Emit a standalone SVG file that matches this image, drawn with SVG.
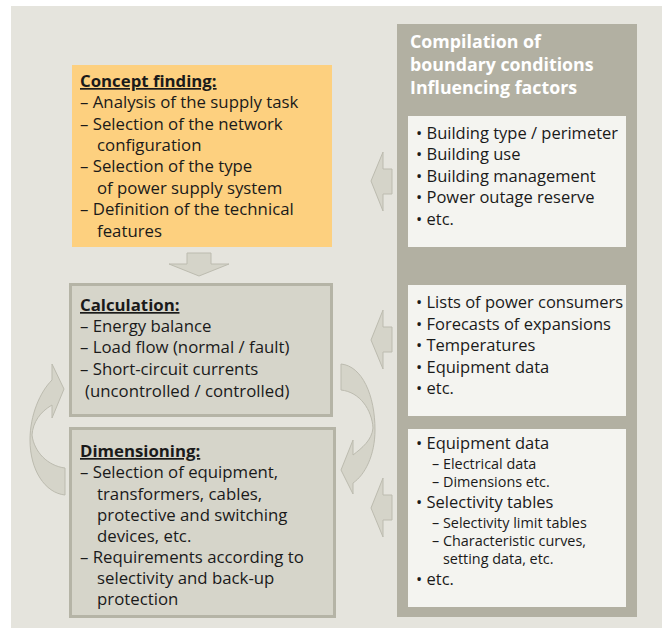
<svg xmlns="http://www.w3.org/2000/svg" width="662" height="629" viewBox="0 0 662 629">
<style>
text{font-family:"Open Sans","Noto Sans","DejaVu Sans",sans-serif;font-size:16.8px;fill:#1a1a1a}
.h{font-weight:bold;text-decoration:underline}
.w{fill:#ffffff;font-weight:bold;font-size:17.8px}
.r{font-size:16.5px}
.s{font-size:14.4px}
.arr{fill:#d5d4c9;stroke:#bcbbaf;stroke-width:1}
</style>
<rect x="0" y="0" width="662" height="629" fill="#ffffff"/>
<rect x="11" y="6" width="651" height="622" fill="#e5e4dd"/>
<g id="panel">
<rect x="397" y="24" width="240" height="593" fill="#b2b0a2"/>
<text class="w" x="410" y="48">Compilation of</text>
<text class="w" x="410" y="71">boundary conditions</text>
<text class="w" x="410" y="94">Influencing factors</text>
</g>
<g id="factors1">
<rect x="408" y="116" width="218" height="131" fill="#f4f4f0"/>
<text class="r" x="416" y="139">• Building type / perimeter</text>
<text class="r" x="416" y="160">• Building use</text>
<text class="r" x="416" y="182">• Building management</text>
<text class="r" x="416" y="203">• Power outage reserve</text>
<text class="r" x="416" y="225">• etc.</text>
</g>
<g id="factors2">
<rect x="408" y="285" width="218" height="131" fill="#f4f4f0"/>
<text class="r" x="416" y="308">• Lists of power consumers</text>
<text class="r" x="416" y="330">• Forecasts of expansions</text>
<text class="r" x="416" y="351">• Temperatures</text>
<text class="r" x="416" y="373">• Equipment data</text>
<text class="r" x="416" y="394">• etc.</text>
</g>
<g id="factors3">
<rect x="408" y="429" width="218" height="178" fill="#f4f4f0"/>
<text class="r" x="416" y="449">• Equipment data</text>
<text class="s" x="432" y="468.5">– Electrical data</text>
<text class="s" x="432" y="486.5">– Dimensions etc.</text>
<text class="r" x="416" y="508">• Selectivity tables</text>
<text class="s" x="432" y="528">– Selectivity limit tables</text>
<text class="s" x="432" y="546">– Characteristic curves,</text>
<text class="s" x="443" y="564">setting data, etc.</text>
<text class="r" x="416" y="585">• etc.</text>
</g>
<g id="concept">
<rect x="72" y="65" width="260" height="182" fill="#fdd07f"/>
<text class="h" x="80" y="87">Concept finding:</text>
<text x="80" y="108">– Analysis of the supply task</text>
<text x="80" y="130">– Selection of the network</text>
<text x="97" y="151">configuration</text>
<text x="80" y="172">– Selection of the type</text>
<text x="97" y="194">of power supply system</text>
<text x="80" y="215">– Definition of the technical</text>
<text x="97" y="237">features</text>
</g>
<g id="calculation">
<rect x="70.5" y="284.5" width="261" height="131" fill="#d6d5ca" stroke="#b5b4a6" stroke-width="3"/>
<text class="h" x="80" y="311">Calculation:</text>
<text x="80" y="332">– Energy balance</text>
<text x="80" y="353">– Load flow (normal / fault)</text>
<text x="80" y="375">– Short-circuit currents</text>
<text x="85" y="397">(uncontrolled / controlled)</text>
</g>
<g id="dimensioning">
<rect x="70.5" y="428.5" width="264" height="188" fill="#d6d5ca" stroke="#b5b4a6" stroke-width="3"/>
<text class="h" x="80" y="457">Dimensioning:</text>
<text x="80" y="478">– Selection of equipment,</text>
<text x="97" y="500">transformers, cables,</text>
<text x="97" y="521">protective and switching</text>
<text x="97" y="542">devices, etc.</text>
<text x="80" y="563">– Requirements according to</text>
<text x="97" y="584">selectivity and back-up</text>
<text x="97" y="605">protection</text>
</g>
<g id="connectors">
<polygon class="arr" points="187,253 211,253 211,264 229,264 199,276 169,264 187,264"/>
<polygon class="arr" points="371,181 383,152 383,169 392,169 392,194 383,194 383,211"/>
<polygon class="arr" points="371,340 383,310 383,327 392,327 392,352 383,352 383,369"/>
<polygon class="arr" points="371,508 383,478 383,495 392,495 392,520 383,520 383,537"/>
<path class="arr" d="M52,364 L64,389 L52,418 L52,405 C40,412 33,422 32,435 C34,452 48,466 65,468 L65,495 C45,493 30,470 30,440 C30,415 40,392 52,380 Z"/>
<path class="arr" d="M341,364 C362,366 375,395 375,430 C375,455 365,475 353,483 L353,494 L341,470 L353,440 L353,455 C362,448 372,440 373,428 C372,410 360,392 341,390 Z"/>
</g>
</svg>
